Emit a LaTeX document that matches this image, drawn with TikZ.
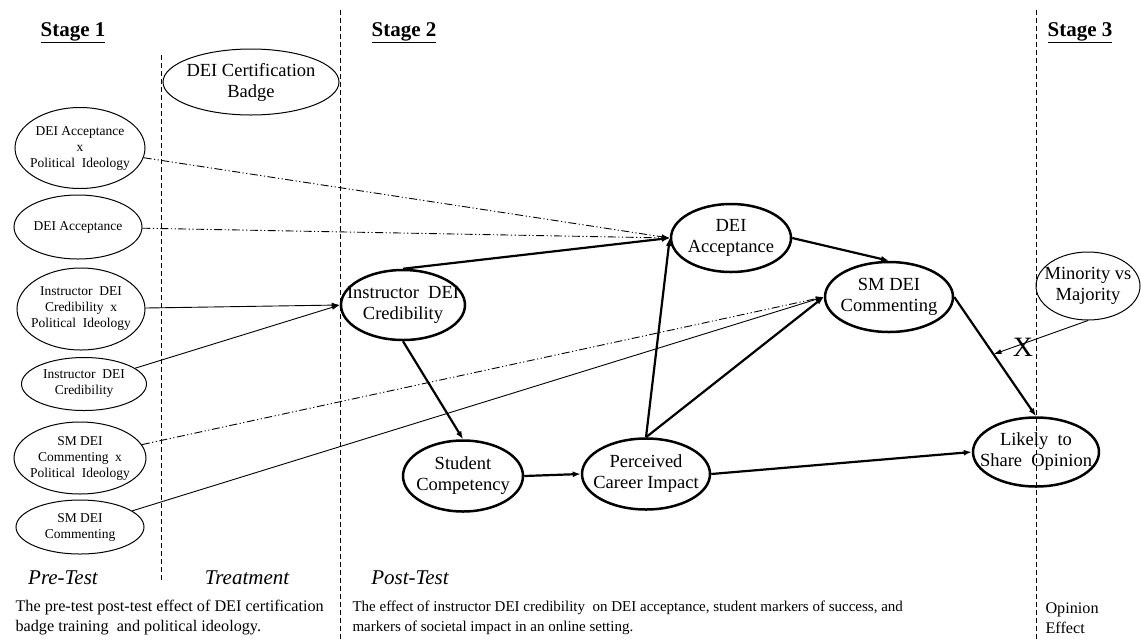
\documentclass[tikz,border=0pt]{standalone}
\usepackage{fontspec}
\setmainfont{Liberation Serif}
\usetikzlibrary{shapes.geometric,arrows.meta,calc}

\begin{document}
\begin{tikzpicture}[x=1pt,y=-1pt,
  ell/.style={ellipse,draw,line width=1pt,inner sep=0pt},
  bell/.style={ellipse,draw,line width=2.5pt,inner sep=0pt},
  small/.style={font=\fontsize{13.5}{16}\selectfont,align=center},
  big/.style={font=\fontsize{18.5}{21}\selectfont,align=center},
  stagehead/.style={font=\bfseries\fontsize{21}{24}\selectfont},
  phase/.style={font=\itshape\fontsize{21}{24}\selectfont},
  note/.style={font=\fontsize{16.2}{20}\selectfont,align=left,anchor=west},
  sep/.style={line width=0.8pt,dash pattern=on 5pt off 3pt},
  thickarrow/.style={line width=2.2pt,-{Latex[length=8pt,width=6pt]}},
  thinarrow/.style={line width=0.9pt,-{Latex[length=8pt,width=5pt]}},
  ddarrow/.style={thinarrow,dash pattern=on 8pt off 2.5pt on 1.2pt off 2.5pt on 1.2pt off 2.5pt}
]
\useasboundingbox (0,0) rectangle (1141,641);

% stage separators
\draw[sep] (161,55) -- (161,580);
\draw[sep] (340,10) -- (340,641);
\draw[sep] (1036,10) -- (1036,641);

% headings
\node[stagehead] (s1) at (73,33) {\underline{Stage 1}};
\node[stagehead] (s2) at (404,33) {\underline{Stage 2}};
\node[stagehead] (s3) at (1080,33) {\underline{Stage 3}};

% pre-test measures
\node[ell,minimum width=130,minimum height=81,label={[small]center:{DEI Acceptance\\x\\Political~~Ideology}}] (a1) at (80,148) {};
\node[ell,minimum width=128,minimum height=64,label={[small]center:DEI Acceptance}] (a2) at (78,227) {};
\node[ell,minimum width=128,minimum height=82,label={[small]center:{Instructor~~DEI\\Credibility~~x\\Political~~Ideology}}] (a3) at (81,309) {};
\node[ell,minimum width=125,minimum height=53,label={[small]center:{Instructor~~DEI\\Credibility}}] (a4) at (84,384) {};
\node[ell,minimum width=132,minimum height=72,label={[small]center:{SM DEI\\Commenting~~x\\Political~~Ideology}}] (a5) at (80,458) {};
\node[ell,minimum width=128,minimum height=54,label={[small]center:{SM DEI\\Commenting}}] (a6) at (80,527) {};

% treatment
\node[ell,minimum width=176,minimum height=66,label={[big]center:{DEI Certification\\Badge}}] (badge) at (251,82) {};

% post-test constructs
\node[bell,minimum width=124,minimum height=70,label={[big]center:{Instructor~~DEI\\Credibility}}] (ic) at (403,305) {};
\node[bell,minimum width=120,minimum height=68,label={[big]center:{DEI\\Acceptance}}] (dacc) at (731,238) {};
\node[bell,minimum width=128,minimum height=70,label={[big]center:{SM DEI\\Commenting}}] (smc) at (889,297) {};
\node[bell,minimum width=120,minimum height=71,label={[big]center:{Student\\Competency}}] (sc) at (463,476) {};
\node[bell,minimum width=128,minimum height=71,label={[big]center:{Perceived\\Career Impact}}] (pci) at (646,474) {};
\node[bell,minimum width=126,minimum height=69,label={[big]center:{Likely~~to\\Share~~Opinion}}] (lk) at (1036,452) {};
\node[ell,minimum width=104,minimum height=68,label={[big]center:{Minority vs\\Majority}}] (mm) at (1088,286) {};

% pre-test paths
\draw[ddarrow] (a1) -- (dacc.west);
\draw[ddarrow] (a2) -- (dacc.west);
\draw[thinarrow] (a3) -- (ic.west);
\draw[thinarrow] (a4) -- (ic.west);
\draw[ddarrow] (a5) -- (smc.west);
\draw[thinarrow] (a6) -- (smc.west);

% structural paths
\draw[thickarrow] (ic.north) -- (dacc.west);
\draw[thickarrow] (ic.south) -- (sc.north);
\draw[thickarrow] (sc.east) -- (pci.west);
\draw[thickarrow] (pci.north) -- (dacc.west);
\draw[thickarrow] (pci.north) -- (smc.west);
\draw[thickarrow] (dacc.east) -- (smc.north);
\draw[thickarrow] (smc.east) -- (lk.north);
\draw[thickarrow] (pci.east) -- (lk.west);

% moderation
\coordinate (modpt) at ($(smc.east)!0.48!(lk.north)$);
\draw[thinarrow] (mm.south) -- (modpt);
\node[font=\fontsize{28}{30}\selectfont] (xmark) at (1023,347) {X};

% phase labels
\node[phase] (pre) at (63,578) {Pre-Test};
\node[phase] (treat) at (247,578) {Treatment};
\node[phase] (post) at (410,578) {Post-Test};

% descriptions
\node[note] (d1) at (12,618) {The pre-test post-test effect of DEI certification\\badge training~ and political ideology.};
\node[note,font=\fontsize{15}{20}\selectfont] (d2) at (349,618) {The effect of instructor DEI credibility~ on DEI acceptance, student markers of success, and\\markers of societal impact in an online setting.};
\node[note] (d3) at (1042,618) {Opinion\\Effect};
\end{tikzpicture}
\end{document}
